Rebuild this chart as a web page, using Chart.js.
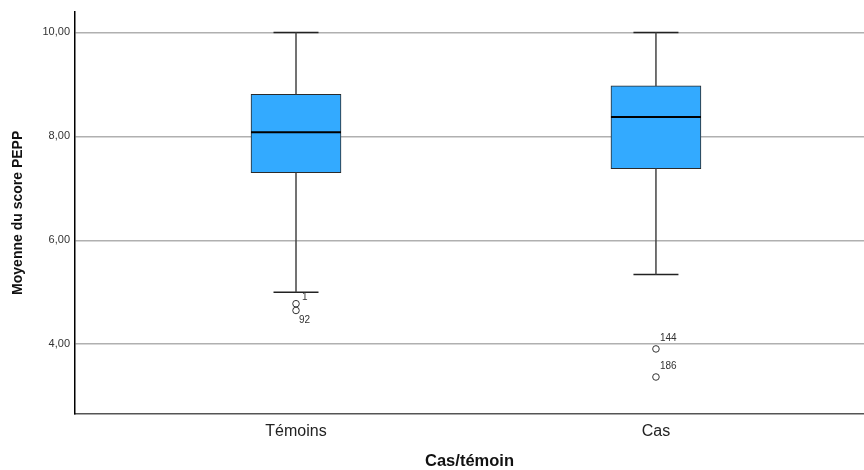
<!DOCTYPE html>
<html>
<head>
<meta charset="utf-8">
<script src="https://cdn.jsdelivr.net/npm/chart.js@4.4.1/dist/chart.umd.min.js"></script>
<style>
  html, body { margin: 0; padding: 0; background: #fff; }
  #wrap { width: 864px; height: 470px; }
</style>
</head>
<body>
<div id="wrap"><canvas id="c" width="864" height="470"></canvas></div>
<script>
// Box-plot summaries of the PEPP score per group
const categories = ['Témoins', 'Cas'];
const whiskerLow = [5.00, 5.34];
const q1 = [7.30, 7.38];
const median = [8.08, 8.37];
const q3 = [8.81, 8.97];
const whiskerHigh = [10.00, 10.00];

// Outlying cases: group index, value, case number
const outlierGroup = [0, 0, 1, 1];
const outlierValue = [4.78, 4.65, 3.91, 3.37];
const outlierId = ['1', '92', '144', '186'];

const yTicks = [4, 6, 8, 10];

// drawing style
const BOX_HALF = 0.125;   // half box width in x units
const CAP_HALF = 0.0625;  // half whisker-cap width in x units
const LINE_COL = '#444444';
const FONT = '"Liberation Sans", Arial, sans-serif';
// where each case number sits relative to its point: [dx, dy] in px
const idPlacement = [[6, -6], [3, 10], [4, -11], [4, -11]];

function segment(x0, y0, x1, y1, color, width) {
  return {
    type: 'line',
    data: [{ x: x0, y: y0 }, { x: x1, y: y1 }],
    borderColor: color,
    borderWidth: width,
    pointRadius: 0,
    fill: false,
    order: 0
  };
}

const datasets = [];
datasets.push({
  type: 'bar',
  data: categories.map((c, i) => ({ x: i + 1, y: [q1[i], q3[i]] })),
  backgroundColor: '#33aaff',
  borderColor: '#2b2b2b',
  borderWidth: 1,
  borderSkipped: false,
  barThickness: 90,
  order: 2
});
categories.forEach((c, i) => {
  const x = i + 1;
  datasets.push(segment(x, q3[i], x, whiskerHigh[i], LINE_COL, 1.5));
  datasets.push(segment(x, q1[i], x, whiskerLow[i], LINE_COL, 1.5));
  datasets.push(segment(x - CAP_HALF, whiskerHigh[i], x + CAP_HALF, whiskerHigh[i], '#222', 1.5));
  datasets.push(segment(x - CAP_HALF, whiskerLow[i], x + CAP_HALF, whiskerLow[i], '#222', 1.5));
  datasets.push(segment(x - BOX_HALF, median[i], x + BOX_HALF, median[i], '#000', 2));
});
datasets.push({
  type: 'scatter',
  data: outlierValue.map((v, k) => ({ x: outlierGroup[k] + 1, y: v })),
  pointRadius: 3.3,
  pointBackgroundColor: '#ffffff',
  pointBorderColor: '#333',
  pointBorderWidth: 1,
  order: 0
});

const caseLabels = {
  id: 'caseLabels',
  afterDatasetsDraw(chart) {
    const { ctx, scales } = chart;
    ctx.save();
    ctx.font = '10px ' + FONT;
    ctx.fillStyle = '#333';
    ctx.textAlign = 'left';
    ctx.textBaseline = 'middle';
    outlierValue.forEach((v, k) => {
      const px = scales.x.getPixelForValue(outlierGroup[k] + 1);
      const py = scales.y.getPixelForValue(v);
      const [dx, dy] = idPlacement[k];
      ctx.fillText(outlierId[k], px + dx, py + dy);
    });
    ctx.restore();
  }
};

new Chart(document.getElementById('c'), {
  type: 'bar',
  data: { datasets },
  options: {
    responsive: false,
    animation: false,
    devicePixelRatio: 1,
    layout: { autoPadding: false, padding: { top: 10, right: 0, left: 0, bottom: 0 } },
    plugins: { legend: { display: false }, tooltip: { enabled: false } },
    scales: {
      x: {
        type: 'linear',
        offset: false,
        min: 0.386,
        max: 2.578,
        afterBuildTicks: s => { s.ticks = [{ value: 1 }, { value: 2 }]; },
        afterFit: s => { s.height = 56; s.paddingRight = 0; s.paddingLeft = 0; },
        grid: { display: false, drawTicks: false, offset: false },
        border: { display: true, color: '#555', width: 1.5 },
        ticks: {
          padding: 8,
          color: '#222',
          maxRotation: 0,
          font: { family: FONT, size: 16 },
          callback: v => categories[v - 1]
        },
        title: {
          display: true,
          text: 'Cas/témoin',
          color: '#111',
          padding: 0,
          font: { family: FONT, size: 16.5, weight: 'bold', lineHeight: 1 }
        }
      },
      y: {
        type: 'linear',
        min: 2.658,
        max: 10.40,
        afterBuildTicks: s => { s.ticks = yTicks.map(v => ({ value: v })); },
        afterFit: s => { s.width = 75; },
        grid: { color: '#b0b0b0', lineWidth: 1.5, drawTicks: false },
        border: { display: true, color: '#000', width: 1.5 },
        ticks: {
          padding: 5,
          color: '#333',
          font: { family: FONT, size: 11 },
          callback: v => v.toFixed(2).replace('.', ',')
        },
        title: {
          display: true,
          text: 'Moyenne du score PEPP',
          color: '#111',
          padding: { top: 10, bottom: 0 },
          font: { family: FONT, size: 14, weight: 'bold', lineHeight: 1.2 }
        }
      }
    }
  },
  plugins: [caseLabels]
});
</script>
</body>
</html>
